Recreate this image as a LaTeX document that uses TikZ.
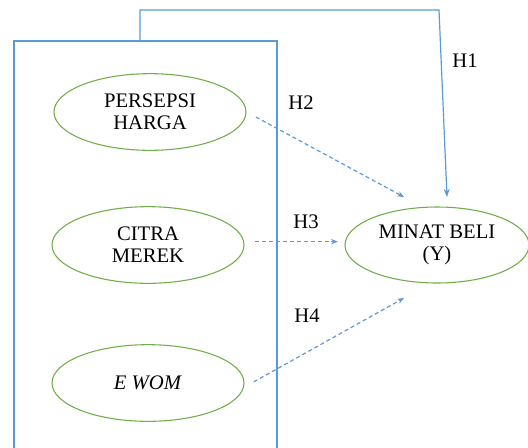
\documentclass[tikz,border=0pt]{standalone}
\usepackage{fontspec}
\setmainfont{Liberation Serif}
\usetikzlibrary{shapes}
\usetikzlibrary{arrows.meta}

\definecolor{lineblue}{RGB}{91,155,213}
\definecolor{ovalgreen}{RGB}{112,173,71}

\begin{document}
\begin{tikzpicture}[x=0.75pt,y=-0.75pt,
  var/.style={ellipse, draw=ovalgreen, line width=0.8pt, inner sep=0pt, align=center,
    minimum width=144pt, minimum height=57.5pt, font=\fontsize{15.5}{16.5}\selectfont},
  hlabel/.style={font=\fontsize{15.5}{16.5}\selectfont},
  solidlink/.style={draw=lineblue, line width=0.9pt},
  dashlink/.style={draw=lineblue, line width=0.9pt, dash pattern=on 3pt off 2.2pt,
    -{Stealth[length=5pt,width=4pt]}}]
\useasboundingbox (0,0) rectangle (528,447);
\clip (0,0) rectangle (528,447);
\fill[white] (0,0) rectangle (528,447);

\draw[solidlink] (14,460) -- (14,41) -- (277,41) -- (277,460);

\node[var] (persepsi) at (150,112) {PERSEPSI\\HARGA};
\node[var] (citra) at (148,245) {CITRA\\MEREK};
\node[var] (ewom) at (148,383) {\textit{E WOM}};
\node[var, minimum width=138pt, minimum height=57pt] (minat) at (437,245) {MINAT BELI\\(Y)};

\coordinate (h1start) at (140,41);
\coordinate (h1corner) at (439,10);
\coordinate (h1tip) at (447,197);
\coordinate (h2tip) at (404,197);
\coordinate (h4tip) at (404,298);

\draw[solidlink, -{Stealth[length=6pt,width=4.5pt]}] (h1start) |- (h1corner) -- (h1tip);
\draw[dashlink, shorten <=8pt] (persepsi.east) -- (h2tip);
\draw[dashlink, shorten <=8pt, shorten >=5pt] ([yshift=2.5pt]citra.east) -- ([yshift=2.5pt]minat.west);
\draw[dashlink, shorten <=8pt] ([yshift=-3pt]ewom.east) -- (h4tip);

\node[hlabel] (h1) at (465,61) {H1};
\node[hlabel] (h2) at (301,103) {H2};
\node[hlabel] (h3) at (306,222) {H3};
\node[hlabel] (h4) at (307,316) {H4};
\end{tikzpicture}
\end{document}
